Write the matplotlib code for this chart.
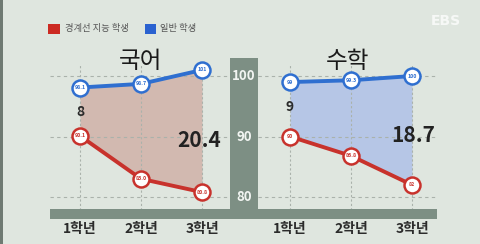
import matplotlib
matplotlib.use("Agg")
import matplotlib.pyplot as plt
from matplotlib.patches import Rectangle

plt.rcParams['font.family'] = ['Noto Sans CJK KR', 'DejaVu Sans']

grades = ["1학년", "2학년", "3학년"]
legend_labels = ["경계선 지능 학생", "일반 학생"]
subjects = ["국어", "수학"]
kor_border = [90.1, 83.0, 80.8]
kor_normal = [98.1, 98.7, 101]
math_border = [90, 86.8, 82]
math_normal = [99, 99.3, 100]
kor_labels_b = ["90.1", "83.0", "80.8"]
kor_labels_n = ["98.1", "98.7", "101"]
math_labels_b = ["90", "86.8", "82"]
math_labels_n = ["99", "99.3", "100"]
first_gap = ["8", "9"]
last_gap = ["20.4", "18.7"]
yticks = [80, 90, 100]

W, H = 480, 244
RED = "#c8322c"
BLUE = "#2f6fd0"
BG = "#dfe6df"
BAR = "#7d8f84"
YLIM = (77.85, 102.98)

fig = plt.figure(figsize=(4.8, 2.44), dpi=100)
fig.patch.set_facecolor(BG)

def fx(p):
    return p / W

def fy(p):
    return (H - p) / H

# left dark strip
fig.patches.append(Rectangle((0, 0), fx(3), 1, transform=fig.transFigure,
                             facecolor="#6f7a72", edgecolor="none", zorder=0))

# bottom bar
fig.patches.append(Rectangle((fx(50), fy(219)), fx(437 - 50), (219 - 209) / H,
                             transform=fig.transFigure, facecolor=BAR,
                             edgecolor="none", zorder=0))


def panel(rect, border, normal, lab_b, lab_n, fillc, title, title_xy, gap1, gap1_y,
          gapN, gapN_xy, xlim):
    ax = fig.add_axes(rect)
    ax.set_facecolor("none")
    ax.set_xlim(*xlim)
    ax.set_ylim(*YLIM)
    for s in ax.spines.values():
        s.set_visible(False)
    ax.set_yticks([])
    x = list(range(len(grades)))
    ax.set_xticks(x)
    ax.set_xticklabels(grades, fontsize=10, fontweight="bold", color="#2b2b2b")
    ax.tick_params(axis="x", length=0, pad=9)
    ax.fill_between(x, border, normal, color=fillc, alpha=1.0, zorder=1, linewidth=0)
    for yv in yticks:
        ax.axhline(yv, color="#aab2ab", lw=0.8, ls=(0, (3, 3)), zorder=2)
    ax.vlines(x, YLIM[0], 101.8, color="#aab2ab", lw=0.8, ls=(0, (2, 2)), zorder=2)
    for vals, labs, c in ((border, lab_b, RED), (normal, lab_n, BLUE)):
        ax.plot(x, vals, color=c, lw=2.8, zorder=3, solid_capstyle="round")
        ax.plot(x, vals, ls="none", marker="o", ms=11.5, mfc="white", mec=c,
                mew=1.8, zorder=4)
        for xi, v, l in zip(x, vals, labs):
            ax.text(xi, v, l, ha="center", va="center", fontsize=3.8,
                    color=c, fontweight="bold", zorder=5)
    ax.text(0, gap1_y, gap1, ha="center", va="center", fontsize=10,
            fontweight="bold", color="#2b2b2b", zorder=5)
    ax.text(gapN_xy[0], gapN_xy[1], gapN, ha="center", va="center", fontsize=15,
            fontweight="bold", color="#222222", zorder=5)
    fig.text(fx(title_xy[0]), fy(title_xy[1]), title, ha="center", va="center",
             fontsize=17, fontweight="medium", color="#1a1a1a")
    return ax


# left panel (국어)
panel([fx(50), fy(210), fx(178), 152 / H], kor_border, kor_normal,
      kor_labels_b, kor_labels_n, "#d2b9b0", subjects[0], (141, 62),
      first_gap[0], 94.0, last_gap[0], (1.95, 89.3), (-30 / 61, 148 / 61))
# right panel (수학)
panel([fx(258), fy(210), fx(179), 152 / H], math_border, math_normal,
      math_labels_b, math_labels_n, "#b6c6e6", subjects[1], (348, 61),
      first_gap[1], 94.8, last_gap[1], (2.02, 90.2), (-32 / 61, 147 / 61))

# centre axis bar
cax = fig.add_axes([fx(230), fy(219), fx(28), (219 - 58) / H])
cax.set_facecolor(BAR)
cax.set_ylim(YLIM[0] - 9 / 6.05, YLIM[1])
cax.set_xlim(0, 1)
cax.set_xticks([])
cax.set_yticks([])
for s in cax.spines.values():
    s.set_visible(False)
for yv in yticks:
    cax.text(0.5, yv, str(yv), ha="center", va="center", fontsize=9.5,
             fontweight="bold", color="#f2f5f2")

# legend
fig.patches.append(Rectangle((fx(48), fy(34)), fx(12), 10 / H, transform=fig.transFigure,
                             facecolor="#cc2a22", edgecolor="none"))
fig.text(fx(65), fy(29), legend_labels[0], ha="left", va="center", fontsize=6.7,
         color="#555555")
fig.patches.append(Rectangle((fx(145), fy(34)), fx(11), 10 / H, transform=fig.transFigure,
                             facecolor="#2a62d0", edgecolor="none"))
fig.text(fx(160), fy(29), legend_labels[1], ha="left", va="center", fontsize=6.7,
         color="#555555")

# EBS logo
fig.text(fx(446), fy(21), "EBS", ha="center", va="center", fontsize=10,
         fontweight="bold", color="white", alpha=0.75, family=["DejaVu Sans"])

fig.savefig("out.png", dpi=100, facecolor=BG)
